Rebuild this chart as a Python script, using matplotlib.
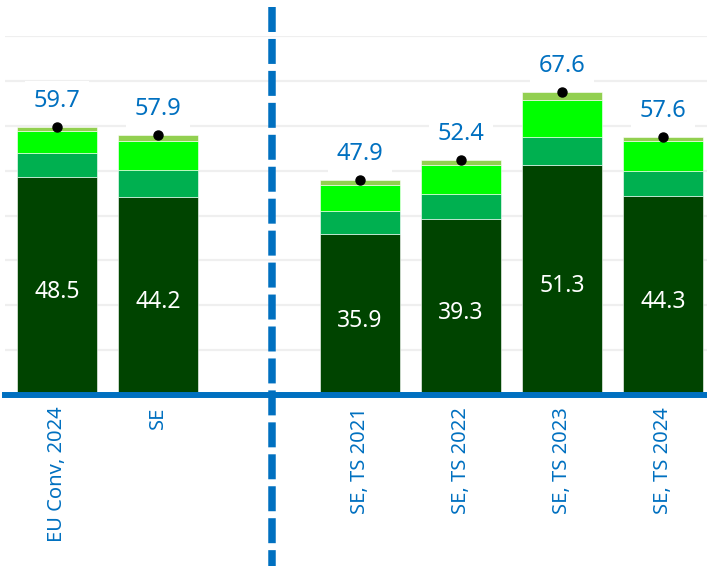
import matplotlib.pyplot as plt
from matplotlib.lines import Line2D

# ── Data ──────────────────────────────────────────────────────────────────────

categories = ["EU Conv, 2024", "SE", "", "SE, TS 2021", "SE, TS 2022", "SE, TS 2023", "SE, TS 2024"]
dark_vals   = [48.5, 44.2, None, 35.9, 39.3, 51.3, 44.3]
medium_vals = [5.4, 6.0, None, 5.1, 5.6, 6.1, 5.6]
bright_vals = [5.0, 6.4, None, 5.7, 6.4, 8.3, 6.7]
light_vals  = [0.8, 1.3, None, 1.2, 1.1, 1.9, 1.0]
totals      = [59.7, 57.9, None, 47.9, 52.4, 67.6, 57.6]

BLUE = "#0070c0"
SEG_COLORS = ["#004400", "#00b050", "#00ff00", "#92d050"]

plt.rcParams["font.family"] = ["Noto Sans", "DejaVu Sans"]

W, H = 707, 566
fig = plt.figure(figsize=(W / 100, H / 100), dpi=100)
ax = fig.add_axes([5 / W, (H - 395) / H, 702 / W, (395 - 36) / H])

positions = [i for i, t in enumerate(totals) if t is not None]
series = [dark_vals, medium_vals, bright_vals, light_vals]

for i in positions:
    bottom = 0
    for vals, col in zip(series, SEG_COLORS):
        ax.bar(i, vals[i], bottom=bottom, width=0.79, color=col,
               edgecolor="white", linewidth=0.4, zorder=3)
        bottom += vals[i]
    # marker at total
    ax.plot(i, totals[i], "o", color="black", markersize=6.5, zorder=5)
    ax.annotate(f"{totals[i]:.1f}", (i, totals[i]), xytext=(0, 18.5),
                textcoords="offset points", ha="center", va="center",
                fontsize=17, color=BLUE, zorder=6,
                bbox=dict(boxstyle="square,pad=0.35", facecolor="white", edgecolor="none"))
    ax.annotate(f"{dark_vals[i]:.1f}", (i, dark_vals[i] / 2), xytext=(0, -4.5),
                textcoords="offset points", ha="center", va="center",
                fontsize=16.5, color="white", zorder=6)

ax.set_xlim(-0.515, 6.436)
ax.set_ylim(0, 80)
ax.set_yticks(range(0, 81, 10))
ax.yaxis.grid(True, color="#efefef", linewidth=1.6)
ax.set_axisbelow(True)
ax.tick_params(axis="y", left=False, labelleft=False)
ax.tick_params(axis="x", bottom=False, pad=5)

ax.set_xticks(positions)
ax.set_xticklabels([categories[i] for i in positions], rotation=90,
                   color=BLUE, fontsize=14.5, va="top")

for side in ["top", "left", "right"]:
    ax.spines[side].set_visible(False)
ax.spines["bottom"].set_color(BLUE)
ax.spines["bottom"].set_linewidth(4.3)
ax.spines["bottom"].set_zorder(4)

# dashed separator, spanning the full figure height
x_sep = 2.13
xf = fig.transFigure.inverted().transform(ax.transData.transform((x_sep, 0)))[0]
sep = Line2D([xf, xf], [1 - 7 / H, 0], transform=fig.transFigure,
             color=BLUE, linewidth=5.4, linestyle=(0, (3.33, 0.93)),
             solid_capstyle="butt", dash_capstyle="butt", zorder=10)
fig.add_artist(sep)

fig.savefig("out.png", dpi=100, facecolor="white")
